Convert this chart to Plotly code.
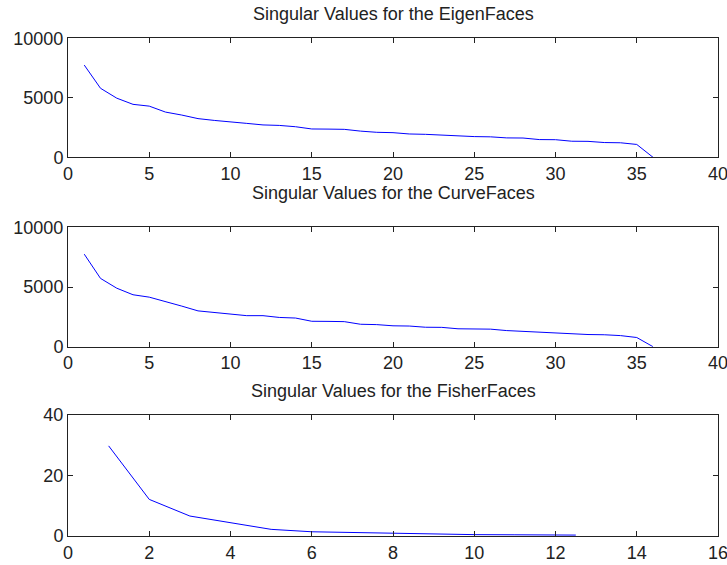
import plotly.graph_objects as go

# ---- data ----
eigen_x = list(range(1, 37))
eigen_vals = [7750, 5800, 4970, 4450, 4300, 3800, 3550, 3250, 3100, 2950,
              2850, 2720, 2680, 2570, 2380, 2370, 2350, 2200, 2100, 2070,
              1960, 1930, 1850, 1820, 1740, 1720, 1630, 1620, 1490, 1480,
              1350, 1340, 1240, 1220, 1080, 0]

curve_x = list(range(1, 37))
curve_vals = [7750, 5720, 4900, 4350, 4150, 3800, 3400, 3000, 2850, 2700,
              2600, 2600, 2450, 2400, 2130, 2120, 2100, 1880, 1850, 1750,
              1730, 1630, 1620, 1500, 1480, 1470, 1350, 1280, 1250, 1150,
              1050, 1020, 1000, 930, 770, 0]

fisher_x = [1, 2, 3, 4, 5, 6, 7, 8, 9, 10, 11, 12, 12.5]
fisher_vals = [29.8, 12.1, 6.6, 4.4, 2.2, 1.4, 1.1, 1.0, 0.5, 0.45, 0.4, 0.35, 0.3]

titles = ["Singular Values for the EigenFaces",
          "Singular Values for the CurveFaces",
          "Singular Values for the FisherFaces"]
x_ticks_main = [0, 5, 10, 15, 20, 25, 30, 35, 40]
y_ticks_main = [0, 5000, 10000]
x_ticks_fisher = [0, 2, 4, 6, 8, 10, 12, 14, 16]
y_ticks_fisher = [0, 20, 40]

# ---- layout geometry ----
W, H = 727, 565
ml, mr, mt, mb = 68, 9, 38, 29
ph = H - mt - mb

def frac(ypix):
    return (H - mb - ypix) / ph

domains = [
    [frac(157.3), frac(38.3)],
    [frac(346.7), frac(227.3)],
    [frac(536.0), frac(415.0)],
]

FONT = "Liberation Sans, Arial, sans-serif"
line_style = dict(color="#0000ff", width=1)

fig = go.Figure()
fig.add_trace(go.Scatter(x=eigen_x, y=eigen_vals, mode="lines", line=line_style,
                         xaxis="x", yaxis="y", showlegend=False))
fig.add_trace(go.Scatter(x=curve_x, y=curve_vals, mode="lines", line=line_style,
                         xaxis="x2", yaxis="y2", showlegend=False))
fig.add_trace(go.Scatter(x=fisher_x, y=fisher_vals, mode="lines", line=line_style,
                         xaxis="x3", yaxis="y3", showlegend=False))

def ax(rng, ticks, anchor, domain=None):
    d = dict(range=rng, tickvals=ticks, ticktext=[str(t) for t in ticks],
             ticks="inside", ticklen=5, tickwidth=1, tickcolor="#222222",
             showline=True, linecolor="#222222", linewidth=1, mirror="ticks",
             showgrid=False, zeroline=False, anchor=anchor,
             automargin=False, ticklabeloverflow="allow",
             tickfont=dict(family=FONT, size=18, color="#222222"),
             fixedrange=True)
    if domain is not None:
        d["domain"] = domain
    return d

layout = dict(
    width=W, height=H,
    margin=dict(l=ml, r=mr, t=mt, b=mb),
    paper_bgcolor="white", plot_bgcolor="white",
    xaxis=ax([0, 40], x_ticks_main, "y", [0, 1]),
    yaxis=ax([0, 10000], y_ticks_main, "x", domains[0]),
    xaxis2=ax([0, 40], x_ticks_main, "y2", [0, 1]),
    yaxis2=ax([0, 10000], y_ticks_main, "x2", domains[1]),
    xaxis3=ax([0, 16], x_ticks_fisher, "y3", [0, 1]),
    yaxis3=ax([0, 40], y_ticks_fisher, "x3", domains[2]),
)
fig.update_layout(**layout)

title_y = [14, 193, 391]
for t, yp in zip(titles, title_y):
    fig.add_annotation(text=t, xref="paper", yref="paper", x=0.5,
                       y=frac(yp), xanchor="center", yanchor="middle",
                       showarrow=False,
                       font=dict(family=FONT, size=18, color="#222222"))

fig.write_html("out.html",
               config={"displayModeBar": False, "staticPlot": True},
               post_script="document.body.style.margin='0px';document.body.style.overflow='hidden';")
